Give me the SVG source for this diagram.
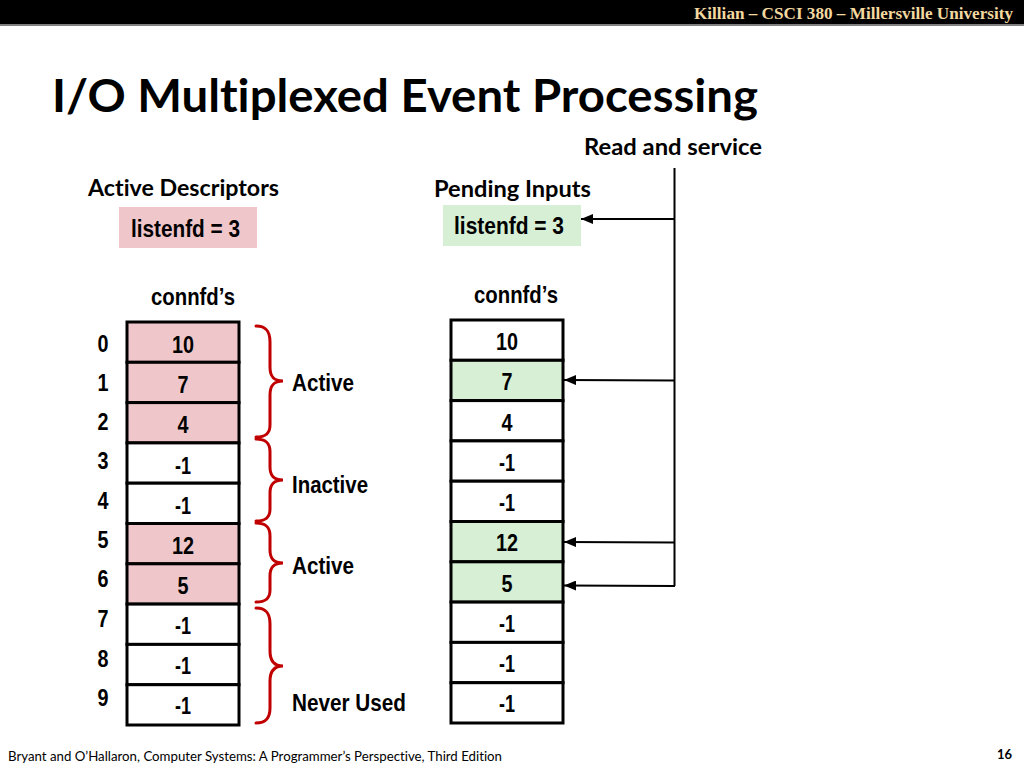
<svg xmlns="http://www.w3.org/2000/svg" width="1024" height="768" viewBox="0 0 1024 768">
<style>
text{font-variant-ligatures:none}
.hdr{font-family:"Liberation Serif",serif;font-weight:bold;font-size:17px;fill:#f3d9a0}
.title{font-family:Lato,"Open Sans",sans-serif;font-weight:bold;font-size:45px;fill:#000}
.lab{font-family:Lato,"Open Sans",sans-serif;font-weight:bold;font-size:22px;fill:#000}
.n{font-family:"Liberation Sans",Arial,sans-serif;font-weight:bold;font-size:24px;fill:#000}
.c{text-anchor:middle}
.foot{font-family:Lato,"Open Sans",sans-serif;font-size:13px;fill:#000}
.cell{stroke:#000;stroke-width:3}
.w{fill:#fff}
.pk{fill:#efc7ca}
.gr{fill:#d6efd5}
.brace{fill:none;stroke:#c00000;stroke-width:3;stroke-linecap:round}
.conn{fill:none;stroke:#000;stroke-width:2}
</style>
<defs>
<marker id="ah" viewBox="0 0 12 10" refX="12" refY="5" markerWidth="12" markerHeight="10" markerUnits="userSpaceOnUse" orient="auto">
<path d="M0,0 L12,5 L0,10 Z" fill="#000"/>
</marker>
</defs>
<rect x="0" y="0" width="1024" height="768" fill="#fff"/>
<g id="header">
<rect x="0" y="0" width="1024" height="24" fill="#000"/>
<rect x="0" y="24" width="1024" height="2" fill="#808080"/>
<text class="hdr" x="694" y="19" textLength="319" lengthAdjust="spacingAndGlyphs">Killian – CSCI 380 – Millersville University</text>
</g>
<g id="title">
<text class="title" x="52" y="112" textLength="706" lengthAdjust="spacingAndGlyphs">I/O Multiplexed Event Processing</text>
</g>
<g id="active-descriptors">
<text class="lab" x="88" y="196" textLength="191" lengthAdjust="spacingAndGlyphs">Active Descriptors</text>
</g>
<g id="listenfd-active">
<rect x="119" y="207" width="138" height="41" class="pk"/>
<text class="n" x="131" y="237" textLength="109" lengthAdjust="spacingAndGlyphs">listenfd = 3</text>
</g>
<g id="pending-inputs">
<text class="lab" x="434" y="197" textLength="157" lengthAdjust="spacingAndGlyphs">Pending Inputs</text>
</g>
<g id="listenfd-pending">
<rect x="443" y="205" width="138" height="41" class="gr"/>
<text class="n" x="454" y="234" textLength="110" lengthAdjust="spacingAndGlyphs">listenfd = 3</text>
</g>
<g id="read-service">
<text class="lab" x="584" y="155" textLength="178" lengthAdjust="spacingAndGlyphs">Read and service</text>
</g>
<g id="connfd-left-label">
<text class="n" x="151" y="305" textLength="84" lengthAdjust="spacingAndGlyphs">connfd’s</text>
</g>
<g id="connfd-right-label">
<text class="n" x="474" y="303" textLength="84" lengthAdjust="spacingAndGlyphs">connfd’s</text>
</g>
<g id="indices">
<text class="n c" x="103" y="352" textLength="11" lengthAdjust="spacingAndGlyphs">0</text>
<text class="n c" x="103" y="391" textLength="11" lengthAdjust="spacingAndGlyphs">1</text>
<text class="n c" x="103" y="430" textLength="11" lengthAdjust="spacingAndGlyphs">2</text>
<text class="n c" x="103" y="469" textLength="11" lengthAdjust="spacingAndGlyphs">3</text>
<text class="n c" x="103" y="509" textLength="11" lengthAdjust="spacingAndGlyphs">4</text>
<text class="n c" x="103" y="548" textLength="11" lengthAdjust="spacingAndGlyphs">5</text>
<text class="n c" x="103" y="587" textLength="11" lengthAdjust="spacingAndGlyphs">6</text>
<text class="n c" x="103" y="627" textLength="11" lengthAdjust="spacingAndGlyphs">7</text>
<text class="n c" x="103" y="667" textLength="11" lengthAdjust="spacingAndGlyphs">8</text>
<text class="n c" x="103" y="706" textLength="11" lengthAdjust="spacingAndGlyphs">9</text>
</g>
<g id="left-array">
<rect class="cell pk" x="127" y="322" width="112" height="40.3"/>
<rect class="cell pk" x="127" y="362.3" width="112" height="40.3"/>
<rect class="cell pk" x="127" y="402.6" width="112" height="40.3"/>
<rect class="cell w" x="127" y="442.9" width="112" height="40.3"/>
<rect class="cell w" x="127" y="483.2" width="112" height="40.3"/>
<rect class="cell pk" x="127" y="523.5" width="112" height="40.3"/>
<rect class="cell pk" x="127" y="563.8" width="112" height="40.3"/>
<rect class="cell w" x="127" y="604.1" width="112" height="40.3"/>
<rect class="cell w" x="127" y="644.4" width="112" height="40.3"/>
<rect class="cell w" x="127" y="684.7" width="112" height="40.3"/>
<text class="n c" x="183" y="353" textLength="22" lengthAdjust="spacingAndGlyphs">10</text>
<text class="n c" x="183" y="393" textLength="11" lengthAdjust="spacingAndGlyphs">7</text>
<text class="n c" x="183" y="433" textLength="11" lengthAdjust="spacingAndGlyphs">4</text>
<text class="n c" x="183" y="474" textLength="16" lengthAdjust="spacingAndGlyphs">-1</text>
<text class="n c" x="183" y="514" textLength="16" lengthAdjust="spacingAndGlyphs">-1</text>
<text class="n c" x="183" y="554" textLength="22" lengthAdjust="spacingAndGlyphs">12</text>
<text class="n c" x="183" y="594" textLength="11" lengthAdjust="spacingAndGlyphs">5</text>
<text class="n c" x="183" y="634" textLength="16" lengthAdjust="spacingAndGlyphs">-1</text>
<text class="n c" x="183" y="674" textLength="16" lengthAdjust="spacingAndGlyphs">-1</text>
<text class="n c" x="183" y="714" textLength="16" lengthAdjust="spacingAndGlyphs">-1</text>
</g>
<g id="right-array">
<rect class="cell w" x="451" y="320" width="112" height="40.3"/>
<rect class="cell gr" x="451" y="360.3" width="112" height="40.3"/>
<rect class="cell w" x="451" y="400.6" width="112" height="40.3"/>
<rect class="cell w" x="451" y="440.9" width="112" height="40.3"/>
<rect class="cell w" x="451" y="481.2" width="112" height="40.3"/>
<rect class="cell gr" x="451" y="521.5" width="112" height="40.3"/>
<rect class="cell gr" x="451" y="561.8" width="112" height="40.3"/>
<rect class="cell w" x="451" y="602.1" width="112" height="40.3"/>
<rect class="cell w" x="451" y="642.4" width="112" height="40.3"/>
<rect class="cell w" x="451" y="682.7" width="112" height="40.3"/>
<text class="n c" x="507" y="350" textLength="22" lengthAdjust="spacingAndGlyphs">10</text>
<text class="n c" x="507" y="390" textLength="11" lengthAdjust="spacingAndGlyphs">7</text>
<text class="n c" x="507" y="431" textLength="11" lengthAdjust="spacingAndGlyphs">4</text>
<text class="n c" x="507" y="471" textLength="16" lengthAdjust="spacingAndGlyphs">-1</text>
<text class="n c" x="507" y="511" textLength="16" lengthAdjust="spacingAndGlyphs">-1</text>
<text class="n c" x="507" y="551" textLength="22" lengthAdjust="spacingAndGlyphs">12</text>
<text class="n c" x="507" y="592" textLength="11" lengthAdjust="spacingAndGlyphs">5</text>
<text class="n c" x="507" y="632" textLength="16" lengthAdjust="spacingAndGlyphs">-1</text>
<text class="n c" x="507" y="672" textLength="16" lengthAdjust="spacingAndGlyphs">-1</text>
<text class="n c" x="507" y="712" textLength="16" lengthAdjust="spacingAndGlyphs">-1</text>
</g>
<g id="brace-active-1">
<path class="brace" d="M256,326 C266,326 270,331 270,342 L270,367 C270,377 274,381 283,381 C274,381 270,385 270,395 L270,425 C270,433 266,437 256,437"/>
<text class="n" x="292" y="391" textLength="62" lengthAdjust="spacingAndGlyphs">Active</text>
</g>
<g id="brace-inactive">
<path class="brace" d="M256,439 C266,439 270,443 270,452 L270,467 C270,476 274,480 283,480 C274,480 270,484 270,493 L270,509 C270,517 266,521 256,521"/>
<text class="n" x="292" y="493" textLength="76" lengthAdjust="spacingAndGlyphs">Inactive</text>
</g>
<g id="brace-active-2">
<path class="brace" d="M256,523 C266,523 270,527 270,536 L270,550 C270,559 274,563 283,563 C274,563 270,567 270,576 L270,590 C270,598 266,602 256,602"/>
<text class="n" x="292" y="574" textLength="62" lengthAdjust="spacingAndGlyphs">Active</text>
</g>
<g id="brace-never-used">
<path class="brace" d="M256,608 C266,608 270,613 270,624 L270,651 C270,661 274,666 283,666 C274,666 270,671 270,681 L270,708 C270,718 266,723 256,723"/>
<text class="n" x="292" y="711" textLength="114" lengthAdjust="spacingAndGlyphs">Never Used</text>
</g>
<g id="connectors">
<path class="conn" d="M674.5,168 L674.5,586"/>
<path class="conn" d="M675,219 L581,219" marker-end="url(#ah)"/>
<path class="conn" d="M675,380.5 L564,380" marker-end="url(#ah)"/>
<path class="conn" d="M675,542.5 L564,542" marker-end="url(#ah)"/>
<path class="conn" d="M675,586 L564,585.5" marker-end="url(#ah)"/>
</g>
<g id="footer">
<text class="foot" x="8" y="761" textLength="494" lengthAdjust="spacingAndGlyphs">Bryant and O’Hallaron, Computer Systems: A Programmer’s Perspective, Third Edition</text>
<text class="foot" x="1012" y="759" text-anchor="end" font-weight="bold">16</text>
</g>
</svg>
